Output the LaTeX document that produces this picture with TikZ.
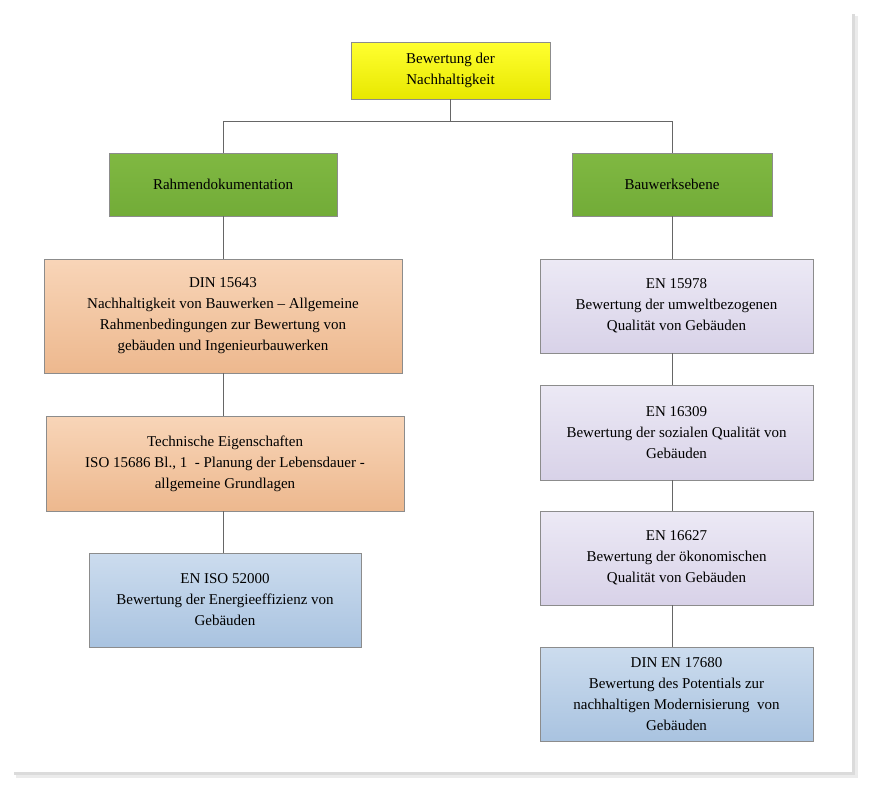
\documentclass[tikz,border=0pt]{standalone}
\usepackage{fontspec}
\setmainfont{Liberation Serif}
\begin{document}
\begin{tikzpicture}[x=1pt,y=-1pt,
 box/.style={draw=black!45,line width=0.6pt,align=center,inner sep=2pt,font=\fontsize{15}{21}\selectfont},
 ln/.style={draw=black!60,line width=0.8pt}]
\useasboundingbox (0,0) rectangle (872,793);
\fill[black!8] (16,16) rectangle (858,778);
\fill[black!14] (14,14) rectangle (855,775);
\fill[white] (12,12) rectangle (852,772);
\newcommand\bxx[8]{\node[box,top color=#6,bottom color=#7,minimum width={#3-#2},minimum height={#5-#4}] (#1) at ({(#2+#3)/2},{(#4+#5)/2}) {#8};}
\definecolor{ye1}{HTML}{FFFF30}\definecolor{ye2}{HTML}{E8E800}
\definecolor{gr1}{HTML}{80B842}\definecolor{gr2}{HTML}{72AC38}
\definecolor{or1}{HTML}{F8D5B8}\definecolor{or2}{HTML}{EDB88E}
\definecolor{bl1}{HTML}{CCDCEE}\definecolor{bl2}{HTML}{A9C3E0}
\definecolor{la1}{HTML}{ECE9F5}\definecolor{la2}{HTML}{D8D2E8}
\bxx{top}{351}{550}{42}{99}{ye1}{ye2}{Bewertung der\\Nachhaltigkeit}
\bxx{rd}{109}{337}{153}{216}{gr1}{gr2}{Rahmendokumentation}
\bxx{be}{572}{772}{153}{216}{gr1}{gr2}{Bauwerksebene}
\bxx{l1}{44}{402}{259}{373}{or1}{or2}{DIN 15643\\Nachhaltigkeit von Bauwerken – Allgemeine\\Rahmenbedingungen zur Bewertung von\\gebäuden und Ingenieurbauwerken}
\bxx{l2}{46}{404}{416}{511}{or1}{or2}{Technische Eigenschaften\\ISO 15686 Bl., 1\ \ - Planung der Lebensdauer -\\allgemeine Grundlagen}
\bxx{l3}{89}{361}{553}{647}{bl1}{bl2}{EN ISO 52000\\Bewertung der Energieeffizienz von\\Gebäuden}
\bxx{r1}{540}{813}{259}{353}{la1}{la2}{EN 15978\\Bewertung der umweltbezogenen\\Qualität von Gebäuden}
\bxx{r2}{540}{813}{385}{480}{la1}{la2}{EN 16309\\Bewertung der sozialen Qualität von\\Gebäuden}
\bxx{r3}{540}{813}{511}{605}{la1}{la2}{EN 16627\\Bewertung der ökonomischen\\Qualität von Gebäuden}
\bxx{r4}{540}{813}{647}{741}{bl1}{bl2}{DIN EN 17680\\Bewertung des Potentials zur\\nachhaltigen Modernisierung\ \ von\\Gebäuden}
\coordinate (j) at (450.5,121);
\draw[ln] (top.south) -- (j);
\draw[ln] (rd.north) -- (rd.north |- j) -- (be.north |- j) -- (be.north);
\draw[ln] (rd.south) -- (rd.south |- l1.north);
\draw[ln] (l1.south -| rd.south) -- (l2.north -| rd.south);
\draw[ln] (l2.south -| rd.south) -- (l3.north -| rd.south);
\draw[ln] (be.south) -- (r1.north -| be.south);
\draw[ln] (r1.south -| be.south) -- (r2.north -| be.south);
\draw[ln] (r2.south -| be.south) -- (r3.north -| be.south);
\draw[ln] (r3.south -| be.south) -- (r4.north -| be.south);
\end{tikzpicture}
\end{document}
